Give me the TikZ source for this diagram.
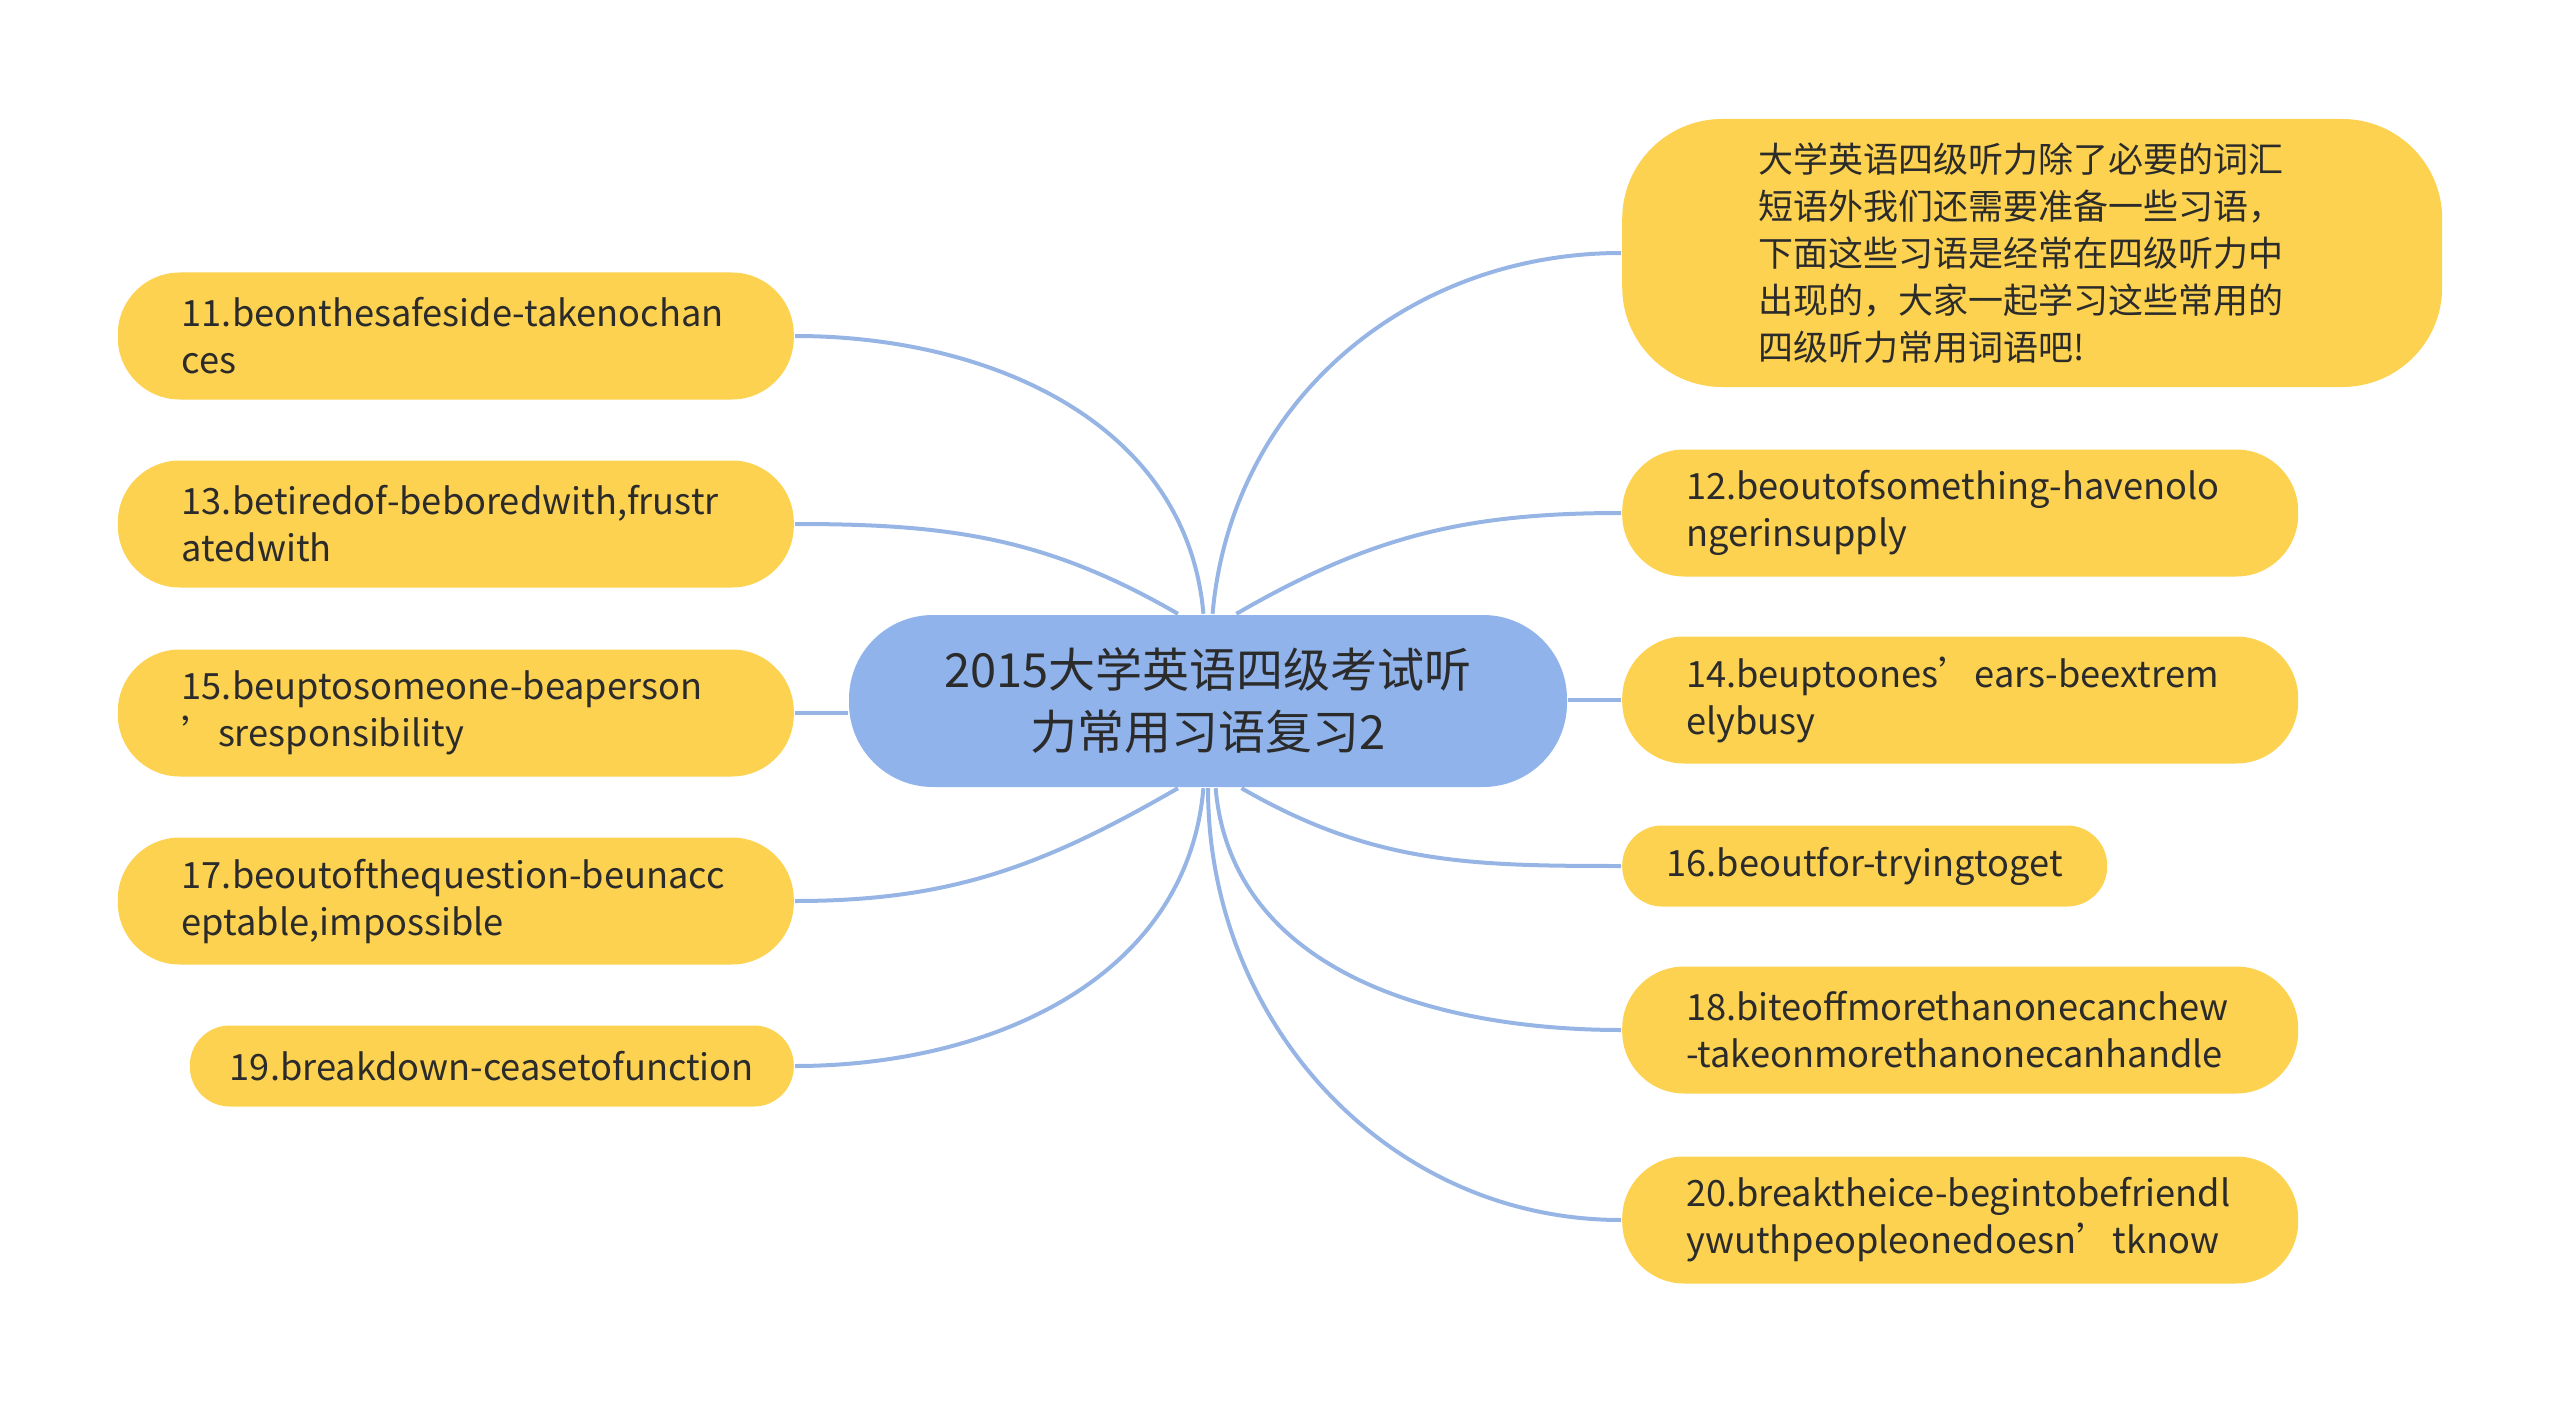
\documentclass[tikz,border=0pt]{standalone}
\usepackage{fontspec}
\setmainfont{Noto Sans CJK SC}
\usetikzlibrary{positioning}
\definecolor{topicblue}{HTML}{8FB3EA}
\definecolor{ideayellow}{HTML}{FCD250}
\definecolor{linkblue}{HTML}{96B5E5}
\definecolor{inkgray}{HTML}{2B2B2B}

\begin{document}
\begin{tikzpicture}[x=0.25pt,y=0.25pt,semithick,
                    font=\fontsize{9.05}{11.75}\selectfont]
  \tikzstyle{every edge}=[draw=linkblue,line width=1pt]
  \tikzstyle{topic}=[fill=topicblue,text=inkgray,rounded corners=21pt,
                     minimum width=179.5pt,minimum height=43pt,align=center,
                     font=\fontsize{11.75}{15.5}\selectfont]
  \tikzstyle{idea}=[fill=ideayellow,text=inkgray,rounded corners=15.5pt,
                    text width=137pt,inner xsep=16pt,minimum height=31.75pt,align=left]
  \tikzstyle{short}=[fill=ideayellow,text=inkgray,rounded corners=10pt,
                     minimum height=20.25pt]

  \useasboundingbox (0,0) rectangle (2560,-1402);

  \node[topic]              (C)   at (1208,-701)  {2015大学英语四级考试听\\力常用习语复习2};

  \node[idea,anchor=east]   (L11) at (795,-336)   {11.beonthesafeside-takenochan\\ces};
  \node[idea,anchor=east]   (L13) at (795,-524)   {13.betiredof-beboredwith,frustr\\atedwith};
  \node[idea,anchor=east]   (L15) at (795,-713)   {15.beuptosomeone-beaperson\\’sresponsibility};
  \node[idea,anchor=east]   (L17) at (795,-901)   {17.beoutofthequestion-beunacc\\eptable,impossible};
  \node[short,anchor=east,minimum width=151pt]
                            (L19) at (795,-1066)  {19.breakdown-ceasetofunction};

  \node[idea,anchor=west,text width=137pt,inner xsep=34pt,minimum height=67pt,
        rounded corners=25pt,font=\fontsize{8.75}{11.75}\selectfont]
                            (R0)  at (1621,-253)  {大学英语四级听力除了必要的词汇\\短语外我们还需要准备一些习语，\\下面这些习语是经常在四级听力中\\出现的，大家一起学习这些常用的\\四级听力常用词语吧!};
  \node[idea,anchor=west]   (R12) at (1621,-513)  {12.beoutofsomething-havenolo\\ngerinsupply};
  \node[idea,anchor=west]   (R14) at (1621,-700)  {14.beuptoones’ears-beextrem\\elybusy};
  \node[short,anchor=west,minimum width=121.25pt]
                            (R16) at (1621,-866)  {16.beoutfor-tryingtoget};
  \node[idea,anchor=west]   (R18) at (1621,-1030) {18.biteoffmorethanonecanchew\\-takeonmorethanonecanhandle};
  \node[idea,anchor=west]   (R20) at (1621,-1220) {20.breaktheice-begintobefriendl\\ywuthpeopleonedoesn’tknow};

  \path (L11) edge[out=0,in=95]    (C.93)
        (L13) edge[out=0,in=150]   (C.109)
        (L15) edge                 (L15 -| C.west)
        (L17) edge[out=0,in=210]   (C.251)
        (L19) edge[out=0,in=265]   (C.267);
  \path (R0)  edge[out=180,in=85]  (C.87)
        (R12) edge[out=180,in=30]  (C.72)
        (R14) edge                 (R14 -| C.east)
        (R16) edge[out=180,in=330] (C.291)
        (R18) edge[out=180,in=275] (C.275)
        (R20) edge[out=180,in=270] (C.270);
\end{tikzpicture}
\end{document}
